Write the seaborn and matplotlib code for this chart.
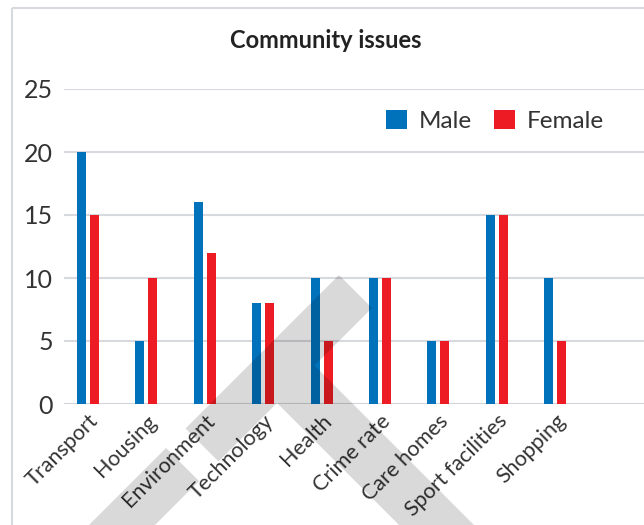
import pandas as pd
import seaborn as sns
import matplotlib.pyplot as plt
from matplotlib.patches import Polygon, Rectangle

# chart data
categories = ["Transport", "Housing", "Environment", "Technology", "Health",
              "Crime rate", "Care homes", "Sport facilities", "Shopping"]
male = [20, 5, 16, 8, 10, 10, 5, 15, 10]
female = [15, 10, 12, 8, 5, 10, 5, 15, 5]
series = ["Male", "Female"]
colors = {"Male": "#0072bc", "Female": "#ed1c24"}
y_ticks = [0, 5, 10, 15, 20, 25]

# long format table for seaborn
df = pd.DataFrame({
    "issue": categories * 2,
    "count": male + female,
    "gender": ["Male"] * len(categories) + ["Female"] * len(categories),
})

sns.set_theme(style="white")
plt.rcParams["font.family"] = ["Lato", "DejaVu Sans"]

fig = plt.figure(figsize=(6.44, 5.25), dpi=100)
ax = fig.add_axes([64 / 644, 1 - 404 / 525, 580 / 644, 315 / 525])

sns.barplot(data=df, x="issue", y="count", hue="gender", hue_order=series,
            palette=colors, width=0.445, gap=0.31, saturation=1,
            linewidth=0, ax=ax, zorder=3)

# axes look: light grid, no spines
ax.set_ylim(0, 25)
ax.set_xlim(-0.41, 9.52)
ax.set_yticks(y_ticks)
ax.yaxis.grid(True, color="#d6d9de", lw=1.5, zorder=0)
ax.set_axisbelow(True)
for s in ax.spines.values():
    s.set_visible(False)
ax.axhline(0, color="#d0d3d8", lw=2, zorder=2)
ax.set_xlabel("")
ax.set_ylabel("")
ax.tick_params(axis="y", length=0, pad=8, labelsize=18, labelcolor="#333333")
ax.tick_params(axis="x", length=0, pad=5, labelsize=15.5, labelcolor="#333333")
plt.setp(ax.get_xticklabels(), rotation=45, ha="right", va="top",
         rotation_mode="anchor")

ax.legend(loc="center", bbox_to_anchor=(0.743, 0.898), ncol=2, frameon=False,
          fontsize=17.5, handlelength=0.85, handleheight=0.85,
          handletextpad=0.5, columnspacing=0.9, labelcolor="#333333")

fig.text(326 / 644, 1 - 40 / 525, "Community issues", ha="center",
         va="center", fontsize=17, fontweight="bold", color="#222222")

# overlay in pixel coordinates for the frame and the grey watermark
ov = fig.add_axes([0, 0, 1, 1], zorder=10)
ov.set_xlim(0, 644)
ov.set_ylim(525, 0)
ov.axis("off")
ov.patch.set_alpha(0)
ov.add_patch(Rectangle((12, 8), 700, 600, fill=False, ec="#d6d9de", lw=1.5))
shade = dict(fc="black", alpha=0.15, ec="none")
ov.add_patch(Polygon([(339, 275), (372, 308), (218.5, 461.5), (185.5, 428.5)], **shade))
ov.add_patch(Polygon([(166, 448), (199, 481), (40, 640), (7, 607)], **shade))
ov.add_patch(Polygon([(314.5, 365.5), (277, 403), (487, 613), (524.5, 575.5)], **shade))

fig.savefig("out.png", dpi=100)
